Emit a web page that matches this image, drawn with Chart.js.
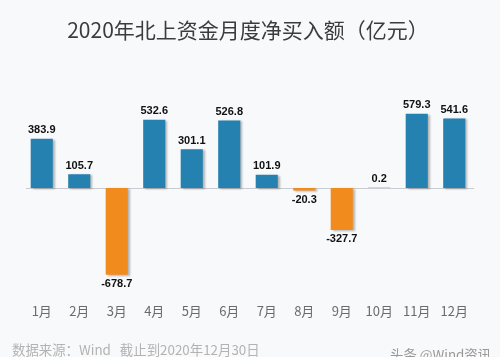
<!DOCTYPE html>
<html>
<head>
<meta charset="utf-8">
<script src="https://cdn.jsdelivr.net/npm/chart.js@4"></script>
<style>
  html, body { margin:0; padding:0; background:#f8f9fb; }
  #wrap { position:relative; width:500px; height:357px; overflow:hidden; background:#f8f9fb; }
  canvas { position:absolute; left:0; top:0; }
  .foot { position:absolute; font-family:"Noto Sans CJK SC","Noto Sans",sans-serif; font-size:13.4px; color:#b3b3b3; white-space:pre; line-height:1; }
</style>
</head>
<body>
<div id="wrap">
  <canvas id="c" width="500" height="357"></canvas>
  <div class="foot" style="left:12px; top:343px;">数据来源：Wind   截止到2020年12月30日</div>
  <div class="foot" style="left:390px; top:348px; color:#999;">头条 @Wind资讯</div>
</div>
<script>
const categories = ["1月","2月","3月","4月","5月","6月","7月","8月","9月","10月","11月","12月"];
const netBuy = [383.9, 105.7, -678.7, 532.6, 301.1, 526.8, 101.9, -20.3, -327.7, 0.2, 579.3, 541.6];
const titleText = "2020年北上资金月度净买入额（亿元）";

const POS = "#2581b0";
const NEG = "#f28b1e";

const shadowPlugin = {
  id: "barShadow",
  beforeDatasetDraw(chart) {
    const ctx = chart.ctx;
    ctx.save();
    ctx.shadowColor = "rgba(0,0,0,0.28)";
    ctx.shadowBlur = 2;
    ctx.shadowOffsetX = 2;
    ctx.shadowOffsetY = 1;
  },
  afterDatasetDraw(chart) { chart.ctx.restore(); }
};

const zeroLine = {
  id: "zeroLine",
  beforeDatasetsDraw(chart) {
    const {ctx, chartArea, scales} = chart;
    const y = Math.round(scales.y.getPixelForValue(0)) + 0.5;
    ctx.save();
    ctx.strokeStyle = "#c9ccd2";
    ctx.lineWidth = 1;
    ctx.beginPath();
    ctx.moveTo(chartArea.left + 3, y);
    ctx.lineTo(chartArea.right + 1, y);
    ctx.stroke();
    ctx.restore();
  }
};

const valueLabels = {
  id: "valueLabels",
  afterDatasetsDraw(chart) {
    const ctx = chart.ctx;
    const meta = chart.getDatasetMeta(0);
    ctx.save();
    ctx.font = "bold 11px 'Liberation Sans', Arial, sans-serif";
    ctx.fillStyle = "#111";
    ctx.textAlign = "center";
    meta.data.forEach((bar, i) => {
      const v = netBuy[i];
      const txt = v.toFixed(1);
      if (v >= 0) {
        ctx.textBaseline = "bottom";
        ctx.fillText(txt, bar.x, bar.y - 3);
      } else {
        ctx.textBaseline = "top";
        ctx.fillText(txt, bar.x, bar.y + 4);
      }
    });
    ctx.restore();
  }
};

new Chart(document.getElementById("c"), {
  type: "bar",
  data: {
    labels: categories,
    datasets: [{
      data: netBuy,
      backgroundColor: netBuy.map(v => v >= 0 ? POS : NEG),
      borderWidth: 0,
      barPercentage: 0.59,
      categoryPercentage: 1.0
    }]
  },
  options: {
    responsive: false,
    animation: false,
    layout: { padding: { left: 23, right: 27, top: 0, bottom: 25 } },
    plugins: {
      legend: { display: false },
      tooltip: { enabled: false },
      title: {
        display: true,
        text: titleText,
        color: "#3c3c3c",
        font: { family: "'Noto Sans CJK SC', sans-serif", size: 21, weight: "normal", lineHeight: 1.2 },
        padding: { top: 17, bottom: 56 }
      }
    },
    scales: {
      x: {
        grid: { display: false, drawTicks: false },
        border: { display: false },
        ticks: {
          color: "#6b6b6b",
          padding: 13,
          font: { family: "'Noto Sans CJK SC', sans-serif", size: 13 }
        }
      },
      y: {
        display: false,
        min: -800,
        max: 700
      }
    }
  },
  plugins: [shadowPlugin, zeroLine, valueLabels]
});
</script>
</body>
</html>
